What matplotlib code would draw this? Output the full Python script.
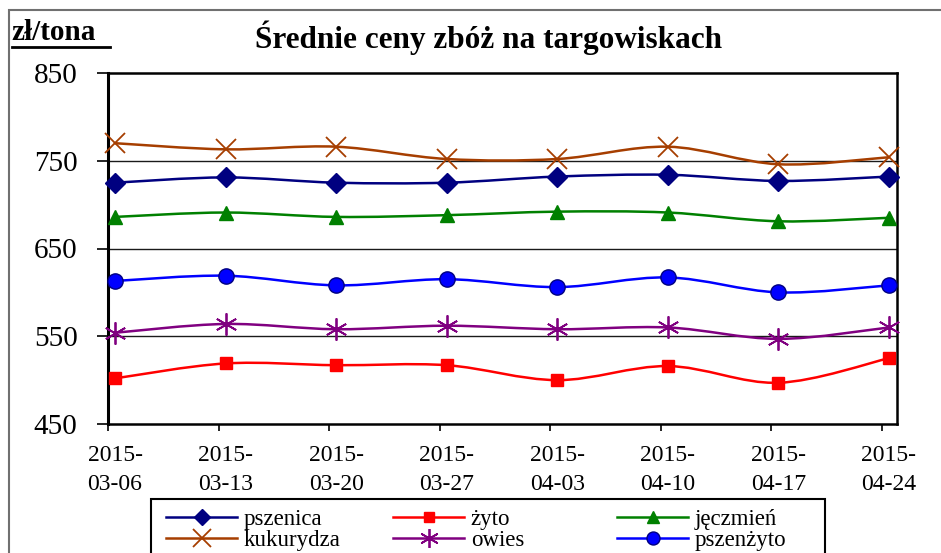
import matplotlib
matplotlib.use("Agg")
import matplotlib.pyplot as plt
import numpy as np
from matplotlib.path import Path
from matplotlib.patches import PathPatch, Rectangle
from matplotlib.lines import Line2D

# ---- data ----
dates = ["2015-\n03-06", "2015-\n03-13", "2015-\n03-20", "2015-\n03-27",
         "2015-\n04-03", "2015-\n04-10", "2015-\n04-17", "2015-\n04-24"]
pszenica = [725, 731, 725, 725, 732, 734, 727, 732]
zyto = [502, 519, 517, 517, 500, 516, 497, 525]
jeczmien = [686, 691, 686, 688, 692, 691, 681, 685]
kukurydza = [770, 763, 766, 752, 752, 766, 746, 754]
owies = [554, 564, 558, 562, 558, 560, 547, 560]
pszenzyto = [613, 619, 608, 615, 606, 617, 600, 608]
yticks = [450, 550, 650, 750, 850]

series = [
    ("pszenica", pszenica, dict(color="#000080", marker="D", ms=10, mfc="#000080", mec="#000080", mew=1)),
    ("żyto", zyto, dict(color="#FF0000", marker="s", ms=9, mfc="#FF0000", mec="#FF0000", mew=1)),
    ("jęczmień", jeczmien, dict(color="#008000", marker="^", ms=10, mfc="#008000", mec="#008000", mew=1)),
    ("kukurydza", kukurydza, dict(color="#A63E00", marker="x", ms=15, mfc="none", mec="#A63E00", mew=1.3)),
    ("owies", owies, dict(color="#800080", marker=(6, 2, 0), ms=16, mfc="none", mec="#800080", mew=1.3)),
    ("pszenżyto", pszenzyto, dict(color="#0000FF", marker="o", ms=11, mfc="#0000FF", mec="#000080", mew=1)),
]

W, H = 941, 553
fig = plt.figure(figsize=(W / 100, H / 100), dpi=100)
plt.rcParams["font.family"] = ["Liberation Serif", "DejaVu Serif"]

# outer chart frame
fig.patches.append(Rectangle((9 / W, -0.05), 1.2, 1 - 10 / H + 0.05, transform=fig.transFigure,
                             fill=False, edgecolor="#707070", lw=1.5))

left, right, top, bottom = 108 / W, 897 / W, 1 - 73 / H, 1 - 424 / H
ax = fig.add_axes([left, bottom, right - left, top - bottom])

x = np.arange(len(dates))


def smooth_path(xs, ys):
    pts = np.column_stack([xs, ys]).astype(float)
    n = len(pts)
    verts = [pts[0]]
    codes = [Path.MOVETO]
    for i in range(n - 1):
        p0 = pts[i - 1] if i > 0 else pts[i]
        p1 = pts[i]
        p2 = pts[i + 1]
        p3 = pts[i + 2] if i + 2 < n else pts[i + 1]
        c1 = p1 + (p2 - p0) / 6.0
        c2 = p2 - (p3 - p1) / 6.0
        verts += [c1, c2, p2]
        codes += [Path.CURVE4] * 3
    return Path(verts, codes)


handles = {}
for name, vals, st in series:
    ax.add_patch(PathPatch(smooth_path(x, vals), fill=False, edgecolor=st["color"], lw=1.8,
                           zorder=3, capstyle="round", joinstyle="round"))
    ax.plot(x, vals, linestyle="none", marker=st["marker"], ms=st["ms"], mfc=st["mfc"],
            mec=st["mec"], mew=st["mew"], zorder=4, clip_on=False)
    handles[name] = Line2D([], [], color=st["color"], lw=1.8, marker=st["marker"],
                           ms=st["ms"] * 0.85, mfc=st["mfc"], mec=st["mec"], mew=st["mew"])

ax.set_ylim(450, 850)
ax.set_yticks(yticks)
ax.set_yticklabels([str(v) for v in yticks], fontsize=21)
for v in yticks[1:-1]:
    ax.axhline(v, color="#1a1a1a", lw=1.0, zorder=1)

off = 7 / 110.5
ax.set_xlim(-off, len(dates) - 1 + 8 / 110.5)
ax.set_xticks(x - off)
ax.set_xticklabels([])
ax.set_xticks(x, minor=True)
ax.set_xticklabels(dates, minor=True, fontsize=17, linespacing=1.5)
ax.tick_params(axis="x", which="major", direction="out", length=5, width=1.2)
ax.tick_params(axis="x", which="minor", length=0, pad=15)
ax.tick_params(axis="y", direction="out", length=8, width=1.2, pad=14)

for s in ax.spines.values():
    s.set_linewidth(1.8)
    s.set_color("black")
ax.spines["left"].set_linewidth(2.2)

# title and unit label
fig.text(489 / W, 1 - 38 / H, "Średnie ceny zbóż na targowiskach", ha="center", va="center",
         fontsize=22.5, fontweight="bold")
fig.text(11 / W, 1 - 33 / H, "zł/tona", ha="left", va="center", fontsize=21, fontweight="bold")
fig.add_artist(Line2D([12 / W, 110 / W], [1 - 46.5 / H, 1 - 46.5 / H], transform=fig.transFigure,
                      color="black", lw=2))

# legend frame and three columns
fig.patches.append(Rectangle((151 / W, -0.05), (825 - 151) / W, 1 - 499 / H + 0.05,
                             transform=fig.transFigure, fill=False, edgecolor="black", lw=1.5))
cols = [(["pszenica", "kukurydza"], 166), (["żyto", "owies"], 393), (["jęczmień", "pszenżyto"], 617)]
for names, xpos in cols:
    lg = fig.legend([handles[n] for n in names], names, loc="upper left",
                    bbox_to_anchor=(xpos / W, 1 - 509 / H), frameon=False, fontsize=16.5,
                    handlelength=3.1, handletextpad=0.3, labelspacing=0.0, borderpad=0.0,
                    borderaxespad=0.0)

fig.savefig("out.png", dpi=100)
